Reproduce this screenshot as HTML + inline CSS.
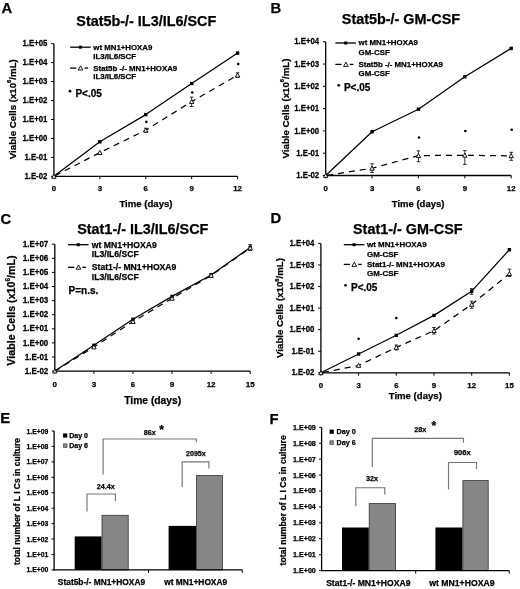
<!DOCTYPE html>
<html><head><meta charset="utf-8"><style>
html,body{margin:0;padding:0;background:#fff;}
body{width:520px;height:589px;overflow:hidden;}
svg{display:block;filter:grayscale(1) blur(0.3px);}
text{font-family:"Liberation Sans", sans-serif;fill:#000;stroke:#000;stroke-width:0.25px;}
</style></head><body>
<svg width="520" height="589" viewBox="0 0 520 589">
<rect width="520" height="589" fill="#fff"/>
<line x1="53.90" y1="43.70" x2="53.90" y2="176.95" stroke="#000" stroke-width="1.3" />
<line x1="53.30" y1="176.35" x2="237.60" y2="176.35" stroke="#000" stroke-width="1.3" />
<line x1="51.10" y1="43.70" x2="53.90" y2="43.70" stroke="#000" stroke-width="1.0" />
<text transform="translate(47.40 46.30) scale(0.926 1)" font-size="8.424" text-anchor="end" font-weight="bold" >1.E+05</text>
<line x1="51.10" y1="62.65" x2="53.90" y2="62.65" stroke="#000" stroke-width="1.0" />
<text transform="translate(47.40 65.25) scale(0.926 1)" font-size="8.424" text-anchor="end" font-weight="bold" >1.E+04</text>
<line x1="51.10" y1="81.60" x2="53.90" y2="81.60" stroke="#000" stroke-width="1.0" />
<text transform="translate(47.40 84.20) scale(0.926 1)" font-size="8.424" text-anchor="end" font-weight="bold" >1.E+03</text>
<line x1="51.10" y1="100.55" x2="53.90" y2="100.55" stroke="#000" stroke-width="1.0" />
<text transform="translate(47.40 103.15) scale(0.926 1)" font-size="8.424" text-anchor="end" font-weight="bold" >1.E+02</text>
<line x1="51.10" y1="119.50" x2="53.90" y2="119.50" stroke="#000" stroke-width="1.0" />
<text transform="translate(47.40 122.10) scale(0.926 1)" font-size="8.424" text-anchor="end" font-weight="bold" >1.E+01</text>
<line x1="51.10" y1="138.45" x2="53.90" y2="138.45" stroke="#000" stroke-width="1.0" />
<text transform="translate(47.40 141.05) scale(0.926 1)" font-size="8.424" text-anchor="end" font-weight="bold" >1.E+00</text>
<line x1="51.10" y1="157.40" x2="53.90" y2="157.40" stroke="#000" stroke-width="1.0" />
<text transform="translate(47.40 160.00) scale(0.926 1)" font-size="8.424" text-anchor="end" font-weight="bold" >1.E-01</text>
<line x1="51.10" y1="176.35" x2="53.90" y2="176.35" stroke="#000" stroke-width="1.0" />
<text transform="translate(47.40 178.95) scale(0.926 1)" font-size="8.424" text-anchor="end" font-weight="bold" >1.E-02</text>
<line x1="53.90" y1="176.35" x2="53.90" y2="179.15" stroke="#000" stroke-width="1.0" />
<text x="53.90" y="191.30" font-size="7.8" text-anchor="middle" font-weight="bold" >0</text>
<line x1="99.82" y1="176.35" x2="99.82" y2="179.15" stroke="#000" stroke-width="1.0" />
<text x="99.82" y="191.30" font-size="7.8" text-anchor="middle" font-weight="bold" >3</text>
<line x1="145.75" y1="176.35" x2="145.75" y2="179.15" stroke="#000" stroke-width="1.0" />
<text x="145.75" y="191.30" font-size="7.8" text-anchor="middle" font-weight="bold" >6</text>
<line x1="191.67" y1="176.35" x2="191.67" y2="179.15" stroke="#000" stroke-width="1.0" />
<text x="191.67" y="191.30" font-size="7.8" text-anchor="middle" font-weight="bold" >9</text>
<line x1="237.60" y1="176.35" x2="237.60" y2="179.15" stroke="#000" stroke-width="1.0" />
<text x="237.60" y="191.30" font-size="7.8" text-anchor="middle" font-weight="bold" >12</text>
<text x="146.00" y="206.80" font-size="9.6" text-anchor="middle" font-weight="bold" >Time (days)</text>
<text transform="translate(15.60,109.20) rotate(-90)" font-size="9.7" text-anchor="middle" font-weight="bold">Viable Cells (x10<tspan font-size="5.82" dy="-4.37">6</tspan><tspan dy="4.37">/mL)</tspan></text>
<text x="76.30" y="25.70" font-size="14.4" text-anchor="start" font-weight="bold" >Stat5b-/- IL3/IL6/SCF</text>
<text x="1.40" y="13.40" font-size="14.8" text-anchor="start" font-weight="bold" >A</text>
<polyline points="53.90,176.35 99.82,141.80 145.75,114.60 191.67,83.50 237.60,53.10" fill="none" stroke="#000" stroke-width="1.25" stroke-linejoin="round"/>
<rect x="98.12" y="140.10" width="3.4" height="3.4" fill="#000"/>
<rect x="144.05" y="112.90" width="3.4" height="3.4" fill="#000"/>
<rect x="189.97" y="81.80" width="3.4" height="3.4" fill="#000"/>
<rect x="235.90" y="51.40" width="3.4" height="3.4" fill="#000"/>
<polyline points="53.90,176.35 99.82,152.60 145.75,130.20 191.67,101.60 237.60,75.20" fill="none" stroke="#000" stroke-width="1.25" stroke-linejoin="round" stroke-dasharray="6 5" stroke-dashoffset="-1.2"/>
<line x1="191.67" y1="97.10" x2="191.67" y2="106.50" stroke="#000" stroke-width="0.8" />
<line x1="189.87" y1="97.10" x2="193.47" y2="97.10" stroke="#000" stroke-width="0.8" />
<line x1="189.87" y1="106.50" x2="193.47" y2="106.50" stroke="#000" stroke-width="0.8" />
<line x1="237.60" y1="72.80" x2="237.60" y2="77.30" stroke="#000" stroke-width="0.8" />
<line x1="235.80" y1="72.80" x2="239.40" y2="72.80" stroke="#000" stroke-width="0.8" />
<line x1="235.80" y1="77.30" x2="239.40" y2="77.30" stroke="#000" stroke-width="0.8" />
<line x1="145.75" y1="128.20" x2="145.75" y2="132.20" stroke="#000" stroke-width="0.8" />
<line x1="143.95" y1="128.20" x2="147.55" y2="128.20" stroke="#000" stroke-width="0.8" />
<line x1="143.95" y1="132.20" x2="147.55" y2="132.20" stroke="#000" stroke-width="0.8" />
<polygon points="53.90,174.18 56.10,178.22 51.70,178.22" fill="#fff" stroke="#000" stroke-width="0.9"/>
<polygon points="99.82,150.43 102.02,154.47 97.62,154.47" fill="#fff" stroke="#000" stroke-width="0.9"/>
<polygon points="145.75,128.03 147.95,132.07 143.55,132.07" fill="#fff" stroke="#000" stroke-width="0.9"/>
<polygon points="191.67,99.43 193.87,103.47 189.47,103.47" fill="#fff" stroke="#000" stroke-width="0.9"/>
<polygon points="237.60,73.03 239.80,77.07 235.40,77.07" fill="#fff" stroke="#000" stroke-width="0.9"/>
<circle cx="146.35" cy="121.90" r="1.3" fill="#000"/>
<circle cx="192.27" cy="92.50" r="1.3" fill="#000"/>
<circle cx="238.20" cy="64.10" r="1.3" fill="#000"/>
<line x1="70.10" y1="47.20" x2="90.70" y2="47.20" stroke="#000" stroke-width="1.3" />
<rect x="78.90" y="45.70" width="3.0" height="3.0" fill="#000"/>
<text x="93.30" y="49.60" font-size="7.85" text-anchor="start" font-weight="bold" >wt MN1+HOXA9</text>
<text x="93.30" y="59.30" font-size="7.85" text-anchor="start" font-weight="bold" >IL3/IL6/SCF</text>
<line x1="70.10" y1="68.10" x2="76.30" y2="68.10" stroke="#000" stroke-width="1.3" />
<line x1="84.50" y1="68.10" x2="88.10" y2="68.10" stroke="#000" stroke-width="1.3" />
<polygon points="80.60,65.84 82.90,70.05 78.30,70.05" fill="#fff" stroke="#000" stroke-width="0.9"/>
<text x="93.30" y="70.60" font-size="7.85" text-anchor="start" font-weight="bold" >Stat5b -/- MN1+HOXA9</text>
<text x="93.30" y="79.30" font-size="7.85" text-anchor="start" font-weight="bold" >IL3/IL6/SCF</text>
<circle cx="70.00" cy="91.20" r="1.4" fill="#000"/>
<text x="75.40" y="96.60" font-size="10.0" text-anchor="start" font-weight="bold" >P&lt;.05</text>
<line x1="325.70" y1="41.75" x2="325.70" y2="176.10" stroke="#000" stroke-width="1.3" />
<line x1="325.10" y1="175.50" x2="511.20" y2="175.50" stroke="#000" stroke-width="1.3" />
<line x1="322.90" y1="41.75" x2="325.70" y2="41.75" stroke="#000" stroke-width="1.0" />
<text transform="translate(319.20 44.35) scale(0.926 1)" font-size="8.424" text-anchor="end" font-weight="bold" >1.E+04</text>
<line x1="322.90" y1="64.04" x2="325.70" y2="64.04" stroke="#000" stroke-width="1.0" />
<text transform="translate(319.20 66.64) scale(0.926 1)" font-size="8.424" text-anchor="end" font-weight="bold" >1.E+03</text>
<line x1="322.90" y1="86.33" x2="325.70" y2="86.33" stroke="#000" stroke-width="1.0" />
<text transform="translate(319.20 88.93) scale(0.926 1)" font-size="8.424" text-anchor="end" font-weight="bold" >1.E+02</text>
<line x1="322.90" y1="108.62" x2="325.70" y2="108.62" stroke="#000" stroke-width="1.0" />
<text transform="translate(319.20 111.22) scale(0.926 1)" font-size="8.424" text-anchor="end" font-weight="bold" >1.E+01</text>
<line x1="322.90" y1="130.92" x2="325.70" y2="130.92" stroke="#000" stroke-width="1.0" />
<text transform="translate(319.20 133.52) scale(0.926 1)" font-size="8.424" text-anchor="end" font-weight="bold" >1.E+00</text>
<line x1="322.90" y1="153.21" x2="325.70" y2="153.21" stroke="#000" stroke-width="1.0" />
<text transform="translate(319.20 155.81) scale(0.926 1)" font-size="8.424" text-anchor="end" font-weight="bold" >1.E-01</text>
<line x1="322.90" y1="175.50" x2="325.70" y2="175.50" stroke="#000" stroke-width="1.0" />
<text transform="translate(319.20 178.10) scale(0.926 1)" font-size="8.424" text-anchor="end" font-weight="bold" >1.E-02</text>
<line x1="325.70" y1="175.50" x2="325.70" y2="178.30" stroke="#000" stroke-width="1.0" />
<text x="325.70" y="190.70" font-size="7.8" text-anchor="middle" font-weight="bold" >0</text>
<line x1="372.07" y1="175.50" x2="372.07" y2="178.30" stroke="#000" stroke-width="1.0" />
<text x="372.07" y="190.70" font-size="7.8" text-anchor="middle" font-weight="bold" >3</text>
<line x1="418.45" y1="175.50" x2="418.45" y2="178.30" stroke="#000" stroke-width="1.0" />
<text x="418.45" y="190.70" font-size="7.8" text-anchor="middle" font-weight="bold" >6</text>
<line x1="464.82" y1="175.50" x2="464.82" y2="178.30" stroke="#000" stroke-width="1.0" />
<text x="464.82" y="190.70" font-size="7.8" text-anchor="middle" font-weight="bold" >9</text>
<line x1="511.20" y1="175.50" x2="511.20" y2="178.30" stroke="#000" stroke-width="1.0" />
<text x="511.20" y="190.70" font-size="7.8" text-anchor="middle" font-weight="bold" >12</text>
<text x="418.10" y="206.50" font-size="9.5" text-anchor="middle" font-weight="bold" >Time (days)</text>
<text transform="translate(288.60,108.50) rotate(-90)" font-size="9.7" text-anchor="middle" font-weight="bold">Viable Cells (x10<tspan font-size="5.82" dy="-4.37">6</tspan><tspan dy="4.37">/mL)</tspan></text>
<text x="341.80" y="24.10" font-size="14.4" text-anchor="start" font-weight="bold" >Stat5b-/- GM-CSF</text>
<text x="270.40" y="13.40" font-size="14.8" text-anchor="start" font-weight="bold" >B</text>
<polyline points="325.70,175.50 372.07,131.75 418.45,109.20 464.82,76.80 511.20,48.40" fill="none" stroke="#000" stroke-width="1.25" stroke-linejoin="round"/>
<rect x="370.38" y="130.05" width="3.4" height="3.4" fill="#000"/>
<rect x="416.75" y="107.50" width="3.4" height="3.4" fill="#000"/>
<rect x="463.12" y="75.10" width="3.4" height="3.4" fill="#000"/>
<rect x="509.50" y="46.70" width="3.4" height="3.4" fill="#000"/>
<polyline points="325.70,175.50 372.07,168.25 418.45,155.60 464.82,155.30 511.20,155.80" fill="none" stroke="#000" stroke-width="1.25" stroke-linejoin="round" stroke-dasharray="6 5" stroke-dashoffset="-1.5"/>
<line x1="372.07" y1="163.75" x2="372.07" y2="172.50" stroke="#000" stroke-width="0.8" />
<line x1="370.27" y1="163.75" x2="373.88" y2="163.75" stroke="#000" stroke-width="0.8" />
<line x1="370.27" y1="172.50" x2="373.88" y2="172.50" stroke="#000" stroke-width="0.8" />
<line x1="418.45" y1="150.90" x2="418.45" y2="161.70" stroke="#000" stroke-width="0.8" />
<line x1="416.65" y1="150.90" x2="420.25" y2="150.90" stroke="#000" stroke-width="0.8" />
<line x1="416.65" y1="161.70" x2="420.25" y2="161.70" stroke="#000" stroke-width="0.8" />
<line x1="464.82" y1="150.60" x2="464.82" y2="164.40" stroke="#000" stroke-width="0.8" />
<line x1="463.02" y1="150.60" x2="466.62" y2="150.60" stroke="#000" stroke-width="0.8" />
<line x1="463.02" y1="164.40" x2="466.62" y2="164.40" stroke="#000" stroke-width="0.8" />
<line x1="511.20" y1="152.30" x2="511.20" y2="160.30" stroke="#000" stroke-width="0.8" />
<line x1="509.40" y1="152.30" x2="513.00" y2="152.30" stroke="#000" stroke-width="0.8" />
<line x1="509.40" y1="160.30" x2="513.00" y2="160.30" stroke="#000" stroke-width="0.8" />
<polygon points="325.70,173.33 327.90,177.37 323.50,177.37" fill="#fff" stroke="#000" stroke-width="0.9"/>
<polygon points="372.07,166.08 374.27,170.12 369.88,170.12" fill="#fff" stroke="#000" stroke-width="0.9"/>
<polygon points="418.45,153.43 420.65,157.47 416.25,157.47" fill="#fff" stroke="#000" stroke-width="0.9"/>
<polygon points="464.82,153.13 467.02,157.17 462.62,157.17" fill="#fff" stroke="#000" stroke-width="0.9"/>
<polygon points="511.20,153.63 513.40,157.67 509.00,157.67" fill="#fff" stroke="#000" stroke-width="0.9"/>
<circle cx="418.95" cy="137.50" r="1.3" fill="#000"/>
<circle cx="465.32" cy="131.00" r="1.3" fill="#000"/>
<circle cx="511.70" cy="129.70" r="1.3" fill="#000"/>
<line x1="335.40" y1="43.00" x2="356.00" y2="43.00" stroke="#000" stroke-width="1.3" />
<rect x="344.20" y="41.50" width="3.0" height="3.0" fill="#000"/>
<text x="358.60" y="45.40" font-size="7.9" text-anchor="start" font-weight="bold" >wt MN1+HOXA9</text>
<text x="358.60" y="54.80" font-size="7.9" text-anchor="start" font-weight="bold" >GM-CSF</text>
<line x1="335.40" y1="64.40" x2="341.60" y2="64.40" stroke="#000" stroke-width="1.3" />
<line x1="349.80" y1="64.40" x2="353.40" y2="64.40" stroke="#000" stroke-width="1.3" />
<polygon points="345.90,62.15 348.20,66.36 343.60,66.36" fill="#fff" stroke="#000" stroke-width="0.9"/>
<text x="358.60" y="67.00" font-size="7.9" text-anchor="start" font-weight="bold" >Stat5b -/- MN1+HOXA9</text>
<text x="358.60" y="75.60" font-size="7.9" text-anchor="start" font-weight="bold" >GM-CSF</text>
<circle cx="338.70" cy="85.30" r="1.4" fill="#000"/>
<text x="343.90" y="90.60" font-size="10.0" text-anchor="start" font-weight="bold" >P&lt;.05</text>
<line x1="54.80" y1="244.20" x2="54.80" y2="371.70" stroke="#000" stroke-width="1.3" />
<line x1="54.20" y1="371.10" x2="250.20" y2="371.10" stroke="#000" stroke-width="1.3" />
<line x1="52.00" y1="244.20" x2="54.80" y2="244.20" stroke="#000" stroke-width="1.0" />
<text transform="translate(48.30 246.80) scale(0.926 1)" font-size="8.64" text-anchor="end" font-weight="bold" >1.E+07</text>
<line x1="52.00" y1="258.30" x2="54.80" y2="258.30" stroke="#000" stroke-width="1.0" />
<text transform="translate(48.30 260.90) scale(0.926 1)" font-size="8.64" text-anchor="end" font-weight="bold" >1.E+06</text>
<line x1="52.00" y1="272.40" x2="54.80" y2="272.40" stroke="#000" stroke-width="1.0" />
<text transform="translate(48.30 275.00) scale(0.926 1)" font-size="8.64" text-anchor="end" font-weight="bold" >1.E+05</text>
<line x1="52.00" y1="286.50" x2="54.80" y2="286.50" stroke="#000" stroke-width="1.0" />
<text transform="translate(48.30 289.10) scale(0.926 1)" font-size="8.64" text-anchor="end" font-weight="bold" >1.E+04</text>
<line x1="52.00" y1="300.60" x2="54.80" y2="300.60" stroke="#000" stroke-width="1.0" />
<text transform="translate(48.30 303.20) scale(0.926 1)" font-size="8.64" text-anchor="end" font-weight="bold" >1.E+03</text>
<line x1="52.00" y1="314.70" x2="54.80" y2="314.70" stroke="#000" stroke-width="1.0" />
<text transform="translate(48.30 317.30) scale(0.926 1)" font-size="8.64" text-anchor="end" font-weight="bold" >1.E+02</text>
<line x1="52.00" y1="328.80" x2="54.80" y2="328.80" stroke="#000" stroke-width="1.0" />
<text transform="translate(48.30 331.40) scale(0.926 1)" font-size="8.64" text-anchor="end" font-weight="bold" >1.E+01</text>
<line x1="52.00" y1="342.90" x2="54.80" y2="342.90" stroke="#000" stroke-width="1.0" />
<text transform="translate(48.30 345.50) scale(0.926 1)" font-size="8.64" text-anchor="end" font-weight="bold" >1.E+00</text>
<line x1="52.00" y1="357.00" x2="54.80" y2="357.00" stroke="#000" stroke-width="1.0" />
<text transform="translate(48.30 359.60) scale(0.926 1)" font-size="8.64" text-anchor="end" font-weight="bold" >1.E-01</text>
<line x1="52.00" y1="371.10" x2="54.80" y2="371.10" stroke="#000" stroke-width="1.0" />
<text transform="translate(48.30 373.70) scale(0.926 1)" font-size="8.64" text-anchor="end" font-weight="bold" >1.E-02</text>
<line x1="54.80" y1="371.10" x2="54.80" y2="373.90" stroke="#000" stroke-width="1.0" />
<text x="54.80" y="386.60" font-size="8.0" text-anchor="middle" font-weight="bold" >0</text>
<line x1="93.88" y1="371.10" x2="93.88" y2="373.90" stroke="#000" stroke-width="1.0" />
<text x="93.88" y="386.60" font-size="8.0" text-anchor="middle" font-weight="bold" >3</text>
<line x1="132.96" y1="371.10" x2="132.96" y2="373.90" stroke="#000" stroke-width="1.0" />
<text x="132.96" y="386.60" font-size="8.0" text-anchor="middle" font-weight="bold" >6</text>
<line x1="172.04" y1="371.10" x2="172.04" y2="373.90" stroke="#000" stroke-width="1.0" />
<text x="172.04" y="386.60" font-size="8.0" text-anchor="middle" font-weight="bold" >9</text>
<line x1="211.12" y1="371.10" x2="211.12" y2="373.90" stroke="#000" stroke-width="1.0" />
<text x="211.12" y="386.60" font-size="8.0" text-anchor="middle" font-weight="bold" >12</text>
<line x1="250.20" y1="371.10" x2="250.20" y2="373.90" stroke="#000" stroke-width="1.0" />
<text x="250.20" y="386.60" font-size="8.0" text-anchor="middle" font-weight="bold" >15</text>
<text x="152.70" y="403.80" font-size="10.3" text-anchor="middle" font-weight="bold" >Time (days)</text>
<text transform="translate(14.60,310.50) rotate(-90)" font-size="10.7" text-anchor="middle" font-weight="bold">Viable Cells (x10<tspan font-size="6.42" dy="-4.81">6</tspan><tspan dy="4.81">/mL)</tspan></text>
<text x="77.20" y="233.60" font-size="14.4" text-anchor="start" font-weight="bold" >Stat1-/- IL3/IL6/SCF</text>
<text x="0.60" y="223.50" font-size="14.8" text-anchor="start" font-weight="bold" >C</text>
<polyline points="54.80,371.10 93.88,345.30 132.96,319.25 172.04,296.40 211.12,275.00 250.20,247.40" fill="none" stroke="#000" stroke-width="1.25" stroke-linejoin="round"/>
<rect x="92.18" y="343.60" width="3.4" height="3.4" fill="#000"/>
<rect x="131.26" y="317.55" width="3.4" height="3.4" fill="#000"/>
<rect x="170.34" y="294.70" width="3.4" height="3.4" fill="#000"/>
<rect x="209.42" y="273.30" width="3.4" height="3.4" fill="#000"/>
<rect x="248.50" y="245.70" width="3.4" height="3.4" fill="#000"/>
<polyline points="54.80,371.10 93.88,347.00 132.96,321.60 172.04,298.40 211.12,275.50 250.20,248.00" fill="none" stroke="#000" stroke-width="1.25" stroke-linejoin="round" stroke-dasharray="6 5" stroke-dashoffset="0"/>
<line x1="250.20" y1="244.60" x2="250.20" y2="250.40" stroke="#000" stroke-width="0.8" />
<line x1="248.40" y1="244.60" x2="252.00" y2="244.60" stroke="#000" stroke-width="0.8" />
<line x1="248.40" y1="250.40" x2="252.00" y2="250.40" stroke="#000" stroke-width="0.8" />
<line x1="211.12" y1="273.50" x2="211.12" y2="277.50" stroke="#000" stroke-width="0.8" />
<line x1="209.32" y1="273.50" x2="212.92" y2="273.50" stroke="#000" stroke-width="0.8" />
<line x1="209.32" y1="277.50" x2="212.92" y2="277.50" stroke="#000" stroke-width="0.8" />
<polygon points="54.80,368.93 57.00,372.97 52.60,372.97" fill="#fff" stroke="#000" stroke-width="0.9"/>
<polygon points="93.88,344.83 96.08,348.87 91.68,348.87" fill="#fff" stroke="#000" stroke-width="0.9"/>
<polygon points="132.96,319.43 135.16,323.47 130.76,323.47" fill="#fff" stroke="#000" stroke-width="0.9"/>
<polygon points="172.04,296.23 174.24,300.27 169.84,300.27" fill="#fff" stroke="#000" stroke-width="0.9"/>
<polygon points="211.12,273.33 213.32,277.37 208.92,277.37" fill="#fff" stroke="#000" stroke-width="0.9"/>
<polygon points="250.20,245.83 252.40,249.87 248.00,249.87" fill="#fff" stroke="#000" stroke-width="0.9"/>
<line x1="68.00" y1="244.70" x2="88.60" y2="244.70" stroke="#000" stroke-width="1.3" />
<rect x="76.80" y="243.20" width="3.0" height="3.0" fill="#000"/>
<text x="91.80" y="247.60" font-size="8.65" text-anchor="start" font-weight="bold" >wt MN1+HOXA9</text>
<text x="91.80" y="257.20" font-size="8.65" text-anchor="start" font-weight="bold" >IL3/IL6/SCF</text>
<line x1="68.00" y1="267.30" x2="74.20" y2="267.30" stroke="#000" stroke-width="1.3" />
<line x1="82.40" y1="267.30" x2="86.00" y2="267.30" stroke="#000" stroke-width="1.3" />
<polygon points="78.50,265.05 80.80,269.25 76.20,269.25" fill="#fff" stroke="#000" stroke-width="0.9"/>
<text x="91.80" y="270.20" font-size="8.65" text-anchor="start" font-weight="bold" >Stat1-/- MN1+HOXA9</text>
<text x="91.80" y="279.80" font-size="8.65" text-anchor="start" font-weight="bold" >IL3/IL6/SCF</text>
<text x="68.60" y="294.40" font-size="10.0" text-anchor="start" font-weight="bold" >P=n.s.</text>
<line x1="320.90" y1="243.40" x2="320.90" y2="373.40" stroke="#000" stroke-width="1.3" />
<line x1="320.30" y1="372.80" x2="509.40" y2="372.80" stroke="#000" stroke-width="1.3" />
<line x1="318.10" y1="243.40" x2="320.90" y2="243.40" stroke="#000" stroke-width="1.0" />
<text transform="translate(314.40 246.00) scale(0.926 1)" font-size="8.424" text-anchor="end" font-weight="bold" >1.E+04</text>
<line x1="318.10" y1="264.97" x2="320.90" y2="264.97" stroke="#000" stroke-width="1.0" />
<text transform="translate(314.40 267.57) scale(0.926 1)" font-size="8.424" text-anchor="end" font-weight="bold" >1.E+03</text>
<line x1="318.10" y1="286.53" x2="320.90" y2="286.53" stroke="#000" stroke-width="1.0" />
<text transform="translate(314.40 289.13) scale(0.926 1)" font-size="8.424" text-anchor="end" font-weight="bold" >1.E+02</text>
<line x1="318.10" y1="308.10" x2="320.90" y2="308.10" stroke="#000" stroke-width="1.0" />
<text transform="translate(314.40 310.70) scale(0.926 1)" font-size="8.424" text-anchor="end" font-weight="bold" >1.E+01</text>
<line x1="318.10" y1="329.67" x2="320.90" y2="329.67" stroke="#000" stroke-width="1.0" />
<text transform="translate(314.40 332.27) scale(0.926 1)" font-size="8.424" text-anchor="end" font-weight="bold" >1.E+00</text>
<line x1="318.10" y1="351.23" x2="320.90" y2="351.23" stroke="#000" stroke-width="1.0" />
<text transform="translate(314.40 353.83) scale(0.926 1)" font-size="8.424" text-anchor="end" font-weight="bold" >1.E-01</text>
<line x1="318.10" y1="372.80" x2="320.90" y2="372.80" stroke="#000" stroke-width="1.0" />
<text transform="translate(314.40 375.40) scale(0.926 1)" font-size="8.424" text-anchor="end" font-weight="bold" >1.E-02</text>
<line x1="320.90" y1="372.80" x2="320.90" y2="375.60" stroke="#000" stroke-width="1.0" />
<text x="320.90" y="387.50" font-size="7.8" text-anchor="middle" font-weight="bold" >0</text>
<line x1="358.60" y1="372.80" x2="358.60" y2="375.60" stroke="#000" stroke-width="1.0" />
<text x="358.60" y="387.50" font-size="7.8" text-anchor="middle" font-weight="bold" >3</text>
<line x1="396.30" y1="372.80" x2="396.30" y2="375.60" stroke="#000" stroke-width="1.0" />
<text x="396.30" y="387.50" font-size="7.8" text-anchor="middle" font-weight="bold" >6</text>
<line x1="434.00" y1="372.80" x2="434.00" y2="375.60" stroke="#000" stroke-width="1.0" />
<text x="434.00" y="387.50" font-size="7.8" text-anchor="middle" font-weight="bold" >9</text>
<line x1="471.70" y1="372.80" x2="471.70" y2="375.60" stroke="#000" stroke-width="1.0" />
<text x="471.70" y="387.50" font-size="7.8" text-anchor="middle" font-weight="bold" >12</text>
<line x1="509.40" y1="372.80" x2="509.40" y2="375.60" stroke="#000" stroke-width="1.0" />
<text x="509.40" y="387.50" font-size="7.8" text-anchor="middle" font-weight="bold" >15</text>
<text x="415.30" y="398.80" font-size="9.6" text-anchor="middle" font-weight="bold" >Time (days)</text>
<text transform="translate(282.90,308.00) rotate(-90)" font-size="9.7" text-anchor="middle" font-weight="bold">Viable Cells (x10<tspan font-size="5.82" dy="-4.37">6</tspan><tspan dy="4.37">/mL)</tspan></text>
<text x="353.00" y="233.60" font-size="14.4" text-anchor="start" font-weight="bold" >Stat1-/- GM-CSF</text>
<text x="270.40" y="223.40" font-size="14.8" text-anchor="start" font-weight="bold" >D</text>
<polyline points="320.90,372.80 358.60,354.00 396.30,335.30 434.00,315.40 471.70,291.20 509.40,249.70" fill="none" stroke="#000" stroke-width="1.25" stroke-linejoin="round"/>
<rect x="356.90" y="352.30" width="3.4" height="3.4" fill="#000"/>
<rect x="394.60" y="333.60" width="3.4" height="3.4" fill="#000"/>
<rect x="432.30" y="313.70" width="3.4" height="3.4" fill="#000"/>
<rect x="470.00" y="289.50" width="3.4" height="3.4" fill="#000"/>
<rect x="507.70" y="248.00" width="3.4" height="3.4" fill="#000"/>
<polyline points="320.90,372.80 358.60,365.50 396.30,347.40 434.00,330.70 471.70,304.40 509.40,273.70" fill="none" stroke="#000" stroke-width="1.25" stroke-linejoin="round" stroke-dasharray="6 5" stroke-dashoffset="-2.2"/>
<line x1="509.40" y1="269.20" x2="509.40" y2="276.50" stroke="#000" stroke-width="0.8" />
<line x1="507.60" y1="269.20" x2="511.20" y2="269.20" stroke="#000" stroke-width="0.8" />
<line x1="507.60" y1="276.50" x2="511.20" y2="276.50" stroke="#000" stroke-width="0.8" />
<line x1="471.70" y1="301.20" x2="471.70" y2="308.30" stroke="#000" stroke-width="0.8" />
<line x1="469.90" y1="301.20" x2="473.50" y2="301.20" stroke="#000" stroke-width="0.8" />
<line x1="469.90" y1="308.30" x2="473.50" y2="308.30" stroke="#000" stroke-width="0.8" />
<line x1="434.00" y1="327.50" x2="434.00" y2="334.00" stroke="#000" stroke-width="0.8" />
<line x1="432.20" y1="327.50" x2="435.80" y2="327.50" stroke="#000" stroke-width="0.8" />
<line x1="432.20" y1="334.00" x2="435.80" y2="334.00" stroke="#000" stroke-width="0.8" />
<line x1="396.30" y1="345.00" x2="396.30" y2="350.00" stroke="#000" stroke-width="0.8" />
<line x1="394.50" y1="345.00" x2="398.10" y2="345.00" stroke="#000" stroke-width="0.8" />
<line x1="394.50" y1="350.00" x2="398.10" y2="350.00" stroke="#000" stroke-width="0.8" />
<line x1="471.70" y1="288.60" x2="471.70" y2="294.30" stroke="#000" stroke-width="0.8" />
<line x1="469.90" y1="288.60" x2="473.50" y2="288.60" stroke="#000" stroke-width="0.8" />
<line x1="469.90" y1="294.30" x2="473.50" y2="294.30" stroke="#000" stroke-width="0.8" />
<polygon points="320.90,370.63 323.10,374.67 318.70,374.67" fill="#fff" stroke="#000" stroke-width="0.9"/>
<polygon points="358.60,363.33 360.80,367.37 356.40,367.37" fill="#fff" stroke="#000" stroke-width="0.9"/>
<polygon points="396.30,345.23 398.50,349.27 394.10,349.27" fill="#fff" stroke="#000" stroke-width="0.9"/>
<polygon points="434.00,328.53 436.20,332.57 431.80,332.57" fill="#fff" stroke="#000" stroke-width="0.9"/>
<polygon points="471.70,302.23 473.90,306.27 469.50,306.27" fill="#fff" stroke="#000" stroke-width="0.9"/>
<polygon points="509.40,271.53 511.60,275.57 507.20,275.57" fill="#fff" stroke="#000" stroke-width="0.9"/>
<circle cx="358.60" cy="338.70" r="1.3" fill="#000"/>
<circle cx="396.30" cy="318.00" r="1.3" fill="#000"/>
<line x1="343.80" y1="244.70" x2="364.40" y2="244.70" stroke="#000" stroke-width="1.3" />
<rect x="352.60" y="243.20" width="3.0" height="3.0" fill="#000"/>
<text x="367.00" y="247.10" font-size="7.95" text-anchor="start" font-weight="bold" >wt MN1+HOXA9</text>
<text x="367.00" y="256.80" font-size="7.95" text-anchor="start" font-weight="bold" >GM-CSF</text>
<line x1="343.80" y1="264.40" x2="350.00" y2="264.40" stroke="#000" stroke-width="1.3" />
<line x1="358.20" y1="264.40" x2="361.80" y2="264.40" stroke="#000" stroke-width="1.3" />
<polygon points="354.30,262.14 356.60,266.35 352.00,266.35" fill="#fff" stroke="#000" stroke-width="0.9"/>
<text x="367.00" y="266.80" font-size="7.95" text-anchor="start" font-weight="bold" >Stat1-/- MN1+HOXA9</text>
<text x="367.00" y="276.00" font-size="7.95" text-anchor="start" font-weight="bold" >GM-CSF</text>
<circle cx="345.50" cy="285.30" r="1.4" fill="#000"/>
<text x="351.00" y="290.70" font-size="10.0" text-anchor="start" font-weight="bold" >P&lt;.05</text>
<line x1="51.60" y1="431.00" x2="54.10" y2="431.00" stroke="#000" stroke-width="1.0" />
<text x="48.30" y="433.50" font-size="6.8" text-anchor="end" font-weight="bold" >1.E+09</text>
<line x1="51.60" y1="446.43" x2="54.10" y2="446.43" stroke="#000" stroke-width="1.0" />
<text x="48.30" y="448.93" font-size="6.8" text-anchor="end" font-weight="bold" >1.E+08</text>
<line x1="51.60" y1="461.87" x2="54.10" y2="461.87" stroke="#000" stroke-width="1.0" />
<text x="48.30" y="464.37" font-size="6.8" text-anchor="end" font-weight="bold" >1.E+07</text>
<line x1="51.60" y1="477.30" x2="54.10" y2="477.30" stroke="#000" stroke-width="1.0" />
<text x="48.30" y="479.80" font-size="6.8" text-anchor="end" font-weight="bold" >1.E+06</text>
<line x1="51.60" y1="492.73" x2="54.10" y2="492.73" stroke="#000" stroke-width="1.0" />
<text x="48.30" y="495.23" font-size="6.8" text-anchor="end" font-weight="bold" >1.E+05</text>
<line x1="51.60" y1="508.17" x2="54.10" y2="508.17" stroke="#000" stroke-width="1.0" />
<text x="48.30" y="510.67" font-size="6.8" text-anchor="end" font-weight="bold" >1.E+04</text>
<line x1="51.60" y1="523.60" x2="54.10" y2="523.60" stroke="#000" stroke-width="1.0" />
<text x="48.30" y="526.10" font-size="6.8" text-anchor="end" font-weight="bold" >1.E+03</text>
<line x1="51.60" y1="539.03" x2="54.10" y2="539.03" stroke="#000" stroke-width="1.0" />
<text x="48.30" y="541.53" font-size="6.8" text-anchor="end" font-weight="bold" >1.E+02</text>
<line x1="51.60" y1="554.47" x2="54.10" y2="554.47" stroke="#000" stroke-width="1.0" />
<text x="48.30" y="556.97" font-size="6.8" text-anchor="end" font-weight="bold" >1.E+01</text>
<line x1="51.60" y1="569.90" x2="54.10" y2="569.90" stroke="#000" stroke-width="1.0" />
<text x="48.30" y="572.40" font-size="6.8" text-anchor="end" font-weight="bold" >1.E+00</text>
<rect x="74.70" y="536.40" width="26.90" height="33.50" fill="#000"/>
<rect x="102.00" y="515.30" width="26.20" height="54.60" fill="#868686" stroke="#333" stroke-width="0.8"/>
<rect x="168.60" y="525.90" width="27.50" height="44.00" fill="#000"/>
<rect x="196.50" y="475.60" width="26.00" height="94.30" fill="#868686" stroke="#333" stroke-width="0.8"/>
<line x1="54.10" y1="431.00" x2="54.10" y2="570.50" stroke="#000" stroke-width="1.3" />
<line x1="53.50" y1="569.90" x2="242.40" y2="569.90" stroke="#000" stroke-width="1.3" />
<line x1="148.50" y1="569.90" x2="148.50" y2="572.90" stroke="#000" stroke-width="1.0" />
<line x1="242.20" y1="569.90" x2="242.20" y2="572.90" stroke="#000" stroke-width="1.0" />
<polyline points="87.00,511.50 87.00,494.00 115.40,494.00 115.40,501.10" fill="none" stroke="#767676" stroke-width="1.15"/>
<polyline points="103.10,474.60 103.10,439.00 196.30,439.00 196.30,442.30" fill="none" stroke="#767676" stroke-width="1.15"/>
<polyline points="182.20,486.90 182.20,461.80 208.90,461.80 208.90,468.50" fill="none" stroke="#767676" stroke-width="1.15"/>
<text x="105.85" y="489.40" font-size="7.2" text-anchor="middle" font-weight="bold" >24.4x</text>
<text x="149.80" y="435.10" font-size="7.2" text-anchor="middle" font-weight="bold" >86x</text>
<text x="195.90" y="455.60" font-size="7.05" text-anchor="middle" font-weight="bold" >2095x</text>
<text x="161.50" y="434.00" font-size="12" text-anchor="middle" font-weight="bold" >*</text>
<text x="101.50" y="585.00" font-size="8.4" text-anchor="middle" font-weight="bold" >Stat5b-/- MN1+HOXA9</text>
<text x="195.70" y="585.00" font-size="8.35" text-anchor="middle" font-weight="bold" >wt MN1+HOXA9</text>
<rect x="63.10" y="433.40" width="4.2" height="4.2" fill="#000"/>
<rect x="63.40" y="443.90" width="3.6" height="3.6" fill="#868686" stroke="#333" stroke-width="0.6"/>
<text x="69.20" y="437.80" font-size="7.0" text-anchor="start" font-weight="bold" >Day 0</text>
<text x="69.20" y="448.20" font-size="7.0" text-anchor="start" font-weight="bold" >Day 6</text>
<text transform="translate(20.40,501.50) rotate(-90)" font-size="8.45" text-anchor="middle" font-weight="bold">total number of L I Cs in culture</text>
<text x="0.20" y="423.40" font-size="14.8" text-anchor="start" font-weight="bold" >E</text>
<line x1="319.10" y1="427.30" x2="321.60" y2="427.30" stroke="#000" stroke-width="1.0" />
<text x="315.80" y="429.80" font-size="7.1" text-anchor="end" font-weight="bold" >1.E+09</text>
<line x1="319.10" y1="443.22" x2="321.60" y2="443.22" stroke="#000" stroke-width="1.0" />
<text x="315.80" y="445.72" font-size="7.1" text-anchor="end" font-weight="bold" >1.E+08</text>
<line x1="319.10" y1="459.14" x2="321.60" y2="459.14" stroke="#000" stroke-width="1.0" />
<text x="315.80" y="461.64" font-size="7.1" text-anchor="end" font-weight="bold" >1.E+07</text>
<line x1="319.10" y1="475.07" x2="321.60" y2="475.07" stroke="#000" stroke-width="1.0" />
<text x="315.80" y="477.57" font-size="7.1" text-anchor="end" font-weight="bold" >1.E+06</text>
<line x1="319.10" y1="490.99" x2="321.60" y2="490.99" stroke="#000" stroke-width="1.0" />
<text x="315.80" y="493.49" font-size="7.1" text-anchor="end" font-weight="bold" >1.E+05</text>
<line x1="319.10" y1="506.91" x2="321.60" y2="506.91" stroke="#000" stroke-width="1.0" />
<text x="315.80" y="509.41" font-size="7.1" text-anchor="end" font-weight="bold" >1.E+04</text>
<line x1="319.10" y1="522.83" x2="321.60" y2="522.83" stroke="#000" stroke-width="1.0" />
<text x="315.80" y="525.33" font-size="7.1" text-anchor="end" font-weight="bold" >1.E+03</text>
<line x1="319.10" y1="538.76" x2="321.60" y2="538.76" stroke="#000" stroke-width="1.0" />
<text x="315.80" y="541.26" font-size="7.1" text-anchor="end" font-weight="bold" >1.E+02</text>
<line x1="319.10" y1="554.68" x2="321.60" y2="554.68" stroke="#000" stroke-width="1.0" />
<text x="315.80" y="557.18" font-size="7.1" text-anchor="end" font-weight="bold" >1.E+01</text>
<line x1="319.10" y1="570.60" x2="321.60" y2="570.60" stroke="#000" stroke-width="1.0" />
<text x="315.80" y="573.10" font-size="7.1" text-anchor="end" font-weight="bold" >1.E+00</text>
<rect x="342.00" y="527.50" width="26.80" height="43.10" fill="#000"/>
<rect x="369.20" y="503.60" width="26.40" height="67.00" fill="#868686" stroke="#333" stroke-width="0.8"/>
<rect x="435.40" y="527.50" width="27.10" height="43.10" fill="#000"/>
<rect x="462.90" y="480.60" width="25.30" height="90.00" fill="#868686" stroke="#333" stroke-width="0.8"/>
<line x1="321.60" y1="427.30" x2="321.60" y2="571.20" stroke="#000" stroke-width="1.3" />
<line x1="321.00" y1="570.60" x2="509.40" y2="570.60" stroke="#000" stroke-width="1.3" />
<line x1="415.70" y1="570.60" x2="415.70" y2="573.60" stroke="#000" stroke-width="1.0" />
<line x1="509.20" y1="570.60" x2="509.20" y2="573.60" stroke="#000" stroke-width="1.0" />
<polyline points="355.80,506.20 355.80,487.70 384.80,487.70 384.80,494.50" fill="none" stroke="#767676" stroke-width="1.15"/>
<polyline points="372.30,466.90 372.30,438.30 463.50,438.30 463.50,442.80" fill="none" stroke="#767676" stroke-width="1.15"/>
<polyline points="448.50,489.40 448.50,462.50 476.50,462.50 476.50,469.10" fill="none" stroke="#767676" stroke-width="1.15"/>
<text x="372.10" y="480.60" font-size="7.25" text-anchor="middle" font-weight="bold" >32x</text>
<text x="420.20" y="431.80" font-size="7.25" text-anchor="middle" font-weight="bold" >28x</text>
<text x="462.30" y="454.60" font-size="7.5" text-anchor="middle" font-weight="bold" >906x</text>
<text x="433.80" y="430.30" font-size="12" text-anchor="middle" font-weight="bold" >*</text>
<text x="368.30" y="586.30" font-size="8.6" text-anchor="middle" font-weight="bold" >Stat1-/- MN1+HOXA9</text>
<text x="461.90" y="586.30" font-size="8.67" text-anchor="middle" font-weight="bold" >wt MN1+HOXA9</text>
<rect x="329.60" y="429.60" width="4.2" height="4.2" fill="#000"/>
<rect x="329.90" y="440.80" width="3.6" height="3.6" fill="#868686" stroke="#333" stroke-width="0.6"/>
<text x="336.60" y="434.00" font-size="7.2" text-anchor="start" font-weight="bold" >Day 0</text>
<text x="336.60" y="444.90" font-size="7.2" text-anchor="start" font-weight="bold" >Day 6</text>
<text transform="translate(286.00,500.30) rotate(-90)" font-size="8.67" text-anchor="middle" font-weight="bold">total number of L I Cs in culture</text>
<text x="269.60" y="424.30" font-size="14.8" text-anchor="start" font-weight="bold" >F</text>
</svg>
</body></html>
